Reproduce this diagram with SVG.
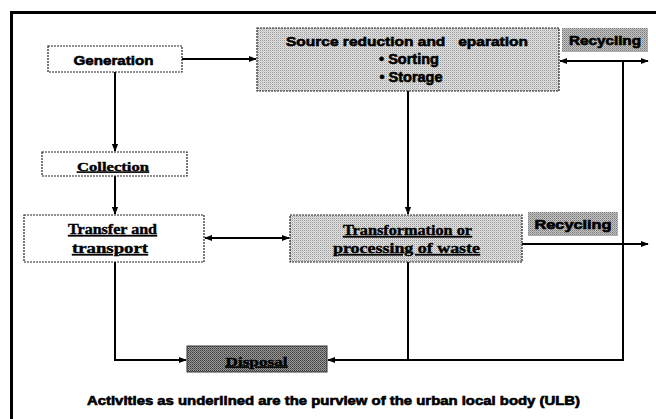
<svg xmlns="http://www.w3.org/2000/svg" width="656" height="419" viewBox="0 0 656 419">
<style>
.box{stroke:#222;stroke-width:1.2;stroke-dasharray:2 1}
.sans{font-family:"Liberation Sans",Arial,sans-serif;font-weight:bold;fill:#000;stroke:#000;stroke-width:0.6}
.serif{font-family:"Liberation Serif","Times New Roman",serif;font-weight:bold;fill:#000;stroke:#000;stroke-width:0.4;text-decoration:underline}
.conn{stroke:#000;stroke-width:2;fill:none}
</style>
<defs>
<marker id="ah" viewBox="0 0 10 10" refX="9" refY="5" markerWidth="4" markerHeight="4" orient="auto-start-reverse" markerUnits="strokeWidth">
<path d="M0,1 L10,5 L0,9 z" fill="#000"/>
</marker>
<pattern id="pLight" width="2" height="2" patternUnits="userSpaceOnUse">
<rect width="2" height="2" fill="#e2e2e2"/><rect width="1" height="1" fill="#9a9a9a"/><rect x="1" y="1" width="1" height="1" fill="#c8c8c8"/>
</pattern>
<pattern id="pMid" width="2" height="2" patternUnits="userSpaceOnUse">
<rect width="2" height="2" fill="#c4c4c4"/><rect width="1" height="1" fill="#7a7a7a"/><rect x="1" y="1" width="1" height="1" fill="#9a9a9a"/>
</pattern>
<pattern id="pDark" width="2" height="2" patternUnits="userSpaceOnUse">
<rect width="2" height="2" fill="#9a9a9a"/><rect width="1" height="1" fill="#3a3a3a"/><rect x="1" y="1" width="1" height="1" fill="#5a5a5a"/>
</pattern>
</defs>
<rect width="656" height="419" fill="#fff"/>
<path d="M11.5 419 V12.5 H656" stroke="#000" stroke-width="3" fill="none"/>

<g id="connectors">
<line class="conn" x1="182" y1="59" x2="256" y2="59" marker-end="url(#ah)"/>
<line class="conn" x1="115" y1="72" x2="115" y2="151" marker-end="url(#ah)"/>
<line class="conn" x1="115" y1="176" x2="115" y2="214" marker-end="url(#ah)"/>
<line class="conn" x1="408" y1="91" x2="408" y2="214" marker-end="url(#ah)"/>
<line class="conn" x1="560" y1="61" x2="648" y2="61" marker-start="url(#ah)" marker-end="url(#ah)"/>
<line class="conn" x1="205" y1="238" x2="289" y2="238" marker-start="url(#ah)" marker-end="url(#ah)"/>
<line class="conn" x1="522" y1="244" x2="648" y2="244" marker-end="url(#ah)"/>
<line class="conn" x1="408" y1="262" x2="408" y2="360"/>
<polyline class="conn" points="115,262 115,360 186,360" marker-end="url(#ah)"/>
<polyline class="conn" points="623,61 623,360 328,360" marker-end="url(#ah)"/>
</g>

<g id="generation">
<rect class="box" x="48" y="46" width="134" height="26" fill="#fff"/>
<text class="sans" x="113.5" y="64.5" font-size="13.5" text-anchor="middle" textLength="80" lengthAdjust="spacingAndGlyphs">Generation</text>
</g>

<g id="source">
<rect class="box" x="257" y="28" width="302" height="63" fill="url(#pLight)"/>
<text class="sans" x="407" y="46" font-size="13" text-anchor="middle" textLength="242" lengthAdjust="spacingAndGlyphs" xml:space="preserve" style="white-space:pre">Source reduction and   eparation</text>
<text class="sans" x="409" y="63.5" font-size="14.5" text-anchor="middle">• Sorting</text>
<text class="sans" x="411" y="82" font-size="14.5" text-anchor="middle">• Storage</text>
</g>

<g id="recycling1">
<rect x="562" y="28" width="86" height="24" fill="url(#pMid)"/>
<text class="sans" x="605" y="45" font-size="12.5" text-anchor="middle" textLength="72" lengthAdjust="spacingAndGlyphs">Recycling</text>
</g>

<g id="collection">
<rect class="box" x="42" y="152" width="145" height="24" fill="#fff"/>
<text class="serif" x="113" y="170.5" font-size="13.5" text-anchor="middle" textLength="72" lengthAdjust="spacingAndGlyphs">Collection</text>
</g>

<g id="transfer">
<rect class="box" x="24" y="215" width="180" height="47" fill="#fff"/>
<text class="serif" x="112.5" y="234" font-size="14" text-anchor="middle" textLength="89" lengthAdjust="spacingAndGlyphs">Transfer and</text>
<text class="serif" x="110" y="253" font-size="14" text-anchor="middle" textLength="76" lengthAdjust="spacingAndGlyphs">transport</text>
</g>

<g id="transformation">
<rect class="box" x="290" y="215" width="232" height="47" fill="url(#pLight)"/>
<text class="serif" x="407.5" y="235" font-size="14" text-anchor="middle" textLength="129" lengthAdjust="spacingAndGlyphs">Transformation or</text>
<text class="serif" x="406.5" y="253" font-size="14" text-anchor="middle" textLength="147" lengthAdjust="spacingAndGlyphs">processing of waste</text>
</g>

<g id="recycling2">
<rect x="528" y="212" width="90" height="24" fill="url(#pMid)"/>
<text class="sans" x="573" y="229" font-size="12.5" text-anchor="middle" textLength="77" lengthAdjust="spacingAndGlyphs">Recycling</text>
</g>

<g id="disposal">
<rect x="187" y="346" width="140" height="26" fill="url(#pDark)" stroke="#333" stroke-width="1"/>
<text class="serif" x="256.5" y="365.5" font-size="13.5" text-anchor="middle" textLength="62" lengthAdjust="spacingAndGlyphs">Disposal</text>
</g>

<text class="sans" x="333.5" y="404.5" font-size="12" text-anchor="middle" textLength="493" lengthAdjust="spacingAndGlyphs">Activities as underlined are the purview of the urban local body (ULB)</text>
</svg>
